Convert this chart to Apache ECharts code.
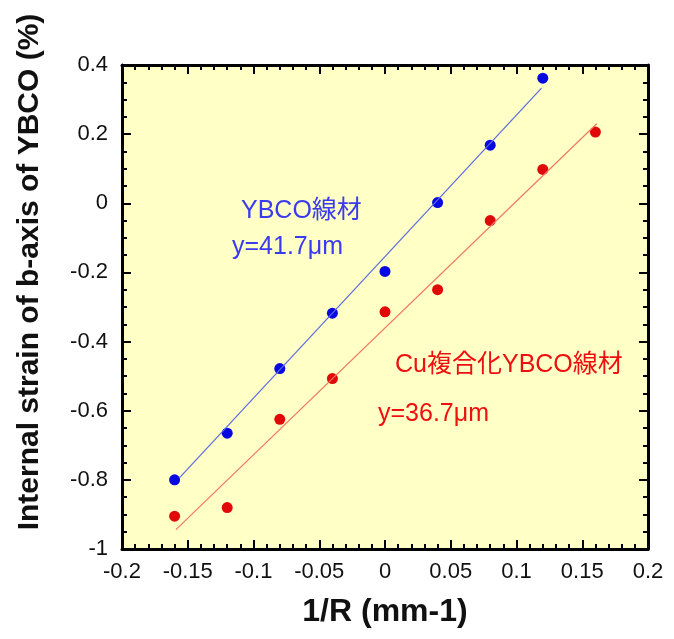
<!DOCTYPE html>
<html>
<head>
<meta charset="utf-8">
<style>
    html, body { margin: 0; padding: 0; background: #fff; }
    #chart { width: 674px; height: 639px; }
</style>
</head>
<body>
<div id="chart"></div>

<script src="https://cdn.jsdelivr.net/npm/echarts@6/dist/echarts.min.js"></script>
<script type="text/javascript">
    const xBlue = [-0.16, -0.12, -0.08, -0.04, 0, 0.04, 0.08, 0.12];
    const yBlue = [-0.80, -0.665, -0.478, -0.318, -0.197, 0.002, 0.168, 0.362];
    const xRed = [-0.16, -0.12, -0.08, -0.04, 0, 0.04, 0.08, 0.12, 0.16];
    const yRed = [-0.905, -0.88, -0.625, -0.507, -0.314, -0.25, -0.05, 0.098, 0.206];

    // fitted lines (end points)
    const blueFitX = [-0.156, 0.119];
    const blueFitY = [-0.793, 0.333];
    const redFitX = [-0.159, 0.161];
    const redFitY = [-0.944, 0.230];

    const blueLabel = 'YBCO線材';
    const blueFitLabel = 'y=41.7μm';
    const redLabel = 'Cu複合化YBCO線材';
    const redFitLabel = 'y=36.7μm';

    const font = '"Liberation Sans", Arial, "Noto Sans CJK JP", sans-serif';
    const pairs = (xs, ys) => xs.map((x, i) => [x, ys[i]]);

    const chart = echarts.init(document.getElementById('chart'));

    const tickStyle = {
        axisLine: { show: true, onZero: false, lineStyle: { color: '#000', width: 3 } },
        axisTick: { show: true, inside: true, length: 9, lineStyle: { color: '#000', width: 2 } },
        minorTick: { show: true, length: 5, lineStyle: { color: '#000', width: 2 } },
        splitLine: { show: false },
        minorSplitLine: { show: false }
    };

    const xBase = { type: 'value', min: -0.2, max: 0.2, interval: 0.05, ...tickStyle };
    xBase.minorTick = { ...tickStyle.minorTick, splitNumber: 5 };
    const yBase = { type: 'value', min: -1, max: 0.4, interval: 0.2, ...tickStyle };
    yBase.minorTick = { ...tickStyle.minorTick, splitNumber: 4 };

    chart.setOption({
        animation: false,
        grid: {
            left: 122, right: 26, top: 65, bottom: 90,
            show: true, backgroundColor: '#ffffc6', borderWidth: 0
        },
        xAxis: [
            {
                ...xBase, position: 'bottom',
                axisLabel: {
                    margin: 12, color: '#111', fontSize: 22, fontFamily: font,
                    formatter: v => String(Math.round(v * 100) / 100)
                }
            },
            { ...xBase, position: 'top', axisLabel: { show: false } }
        ],
        yAxis: [
            {
                ...yBase, position: 'left',
                axisLabel: {
                    margin: 14, color: '#111', fontSize: 22, fontFamily: font,
                    formatter: v => String(Math.round(v * 10) / 10)
                }
            },
            { ...yBase, position: 'right', axisLabel: { show: false } }
        ],
        series: [
            {
                type: 'line', data: pairs(blueFitX, blueFitY), symbol: 'none',
                lineStyle: { color: '#5a6ae0', width: 1.2 }, silent: true
            },
            {
                type: 'line', data: pairs(redFitX, redFitY), symbol: 'none',
                lineStyle: { color: '#f07860', width: 1.2 }, silent: true
            },
            {
                type: 'scatter', data: pairs(xBlue, yBlue), symbolSize: 11,
                itemStyle: { color: '#0808e0', opacity: 1 }
            },
            {
                type: 'scatter', data: pairs(xRed, yRed), symbolSize: 11,
                itemStyle: { color: '#e00808', opacity: 1 }
            }
        ],
        graphic: [
            {
                type: 'text', x: 30, y: 272, rotation: Math.PI / 2,
                style: {
                    text: 'Internal strain of b-axis of YBCO (%)', fill: '#111',
                    font: 'bold 30px ' + font, align: 'center', verticalAlign: 'middle'
                }
            },
            {
                type: 'text', x: 385, y: 612,
                style: {
                    text: '1/R (mm-1)', fill: '#111',
                    font: 'bold 32px ' + font, align: 'center', verticalAlign: 'middle'
                }
            },
            {
                type: 'text', x: 241, y: 211,
                style: { text: blueLabel, fill: '#3a3aee', font: '25px ' + font, verticalAlign: 'middle' }
            },
            {
                type: 'text', x: 232, y: 247,
                style: { text: blueFitLabel, fill: '#3a3aee', font: '25px ' + font, verticalAlign: 'middle' }
            },
            {
                type: 'text', x: 395, y: 365,
                style: { text: redLabel, fill: '#ee1010', font: '25px ' + font, verticalAlign: 'middle' }
            },
            {
                type: 'text', x: 378, y: 414,
                style: { text: redFitLabel, fill: '#ee1010', font: '25px ' + font, verticalAlign: 'middle' }
            }
        ]
    });
</script>
</body>
</html>
